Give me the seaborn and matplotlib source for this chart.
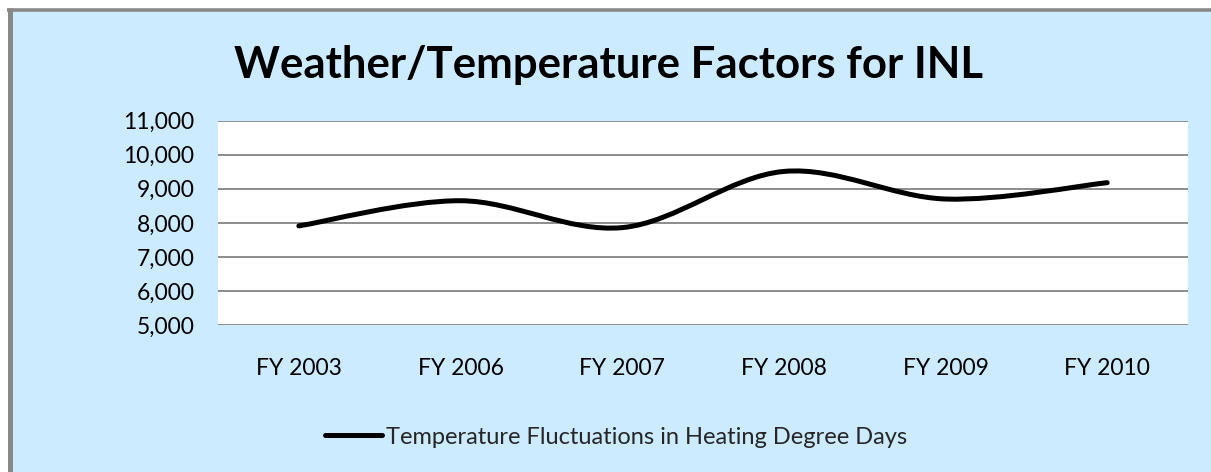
import numpy as np
import pandas as pd
import matplotlib
matplotlib.use("Agg")
import matplotlib.pyplot as plt
import seaborn as sns
from matplotlib.path import Path
from matplotlib.patches import PathPatch, Rectangle
from matplotlib.lines import Line2D
from matplotlib.ticker import FuncFormatter

categories = ["FY 2003", "FY 2006", "FY 2007", "FY 2008", "FY 2009", "FY 2010"]
values = [7910, 8650, 7860, 9510, 8700, 9180]
series_name = "Temperature Fluctuations in Heating Degree Days"
title = "Weather/Temperature Factors for INL"
y_ticks = [5000, 6000, 7000, 8000, 9000, 10000, 11000]

sns.set_theme(style="white")
plt.rcParams['font.family'] = ['Lato', 'DejaVu Sans']

W, H = 1211, 472
fig = plt.figure(figsize=(W / 100, H / 100), dpi=100, facecolor="white",
                 edgecolor="white", linewidth=0)

bg = "#CCEBFF"
bx, by = 9.5 / W, 1 - 9.5 / H
fig.patches.append(Rectangle((bx, -0.1), 1.2, by + 0.1, transform=fig.transFigure,
                             facecolor=bg, edgecolor="none", linewidth=0, zorder=-10))
fig.lines.append(Line2D([bx, bx], [-0.1, by + 1.5 / H], transform=fig.transFigure,
                        color="#888888", linewidth=3.6, solid_capstyle="butt"))
fig.lines.append(Line2D([bx - 2.5 / W, 1.2], [by, by], transform=fig.transFigure,
                        color="#888888", linewidth=2.6, solid_capstyle="butt"))

left, right = 218 / W, 1188 / W
top, bottom = 1 - 120.7 / H, 1 - 325 / H
ax = fig.add_axes([left, bottom, right - left, top - bottom])
ax.set_facecolor("white")

df = pd.DataFrame({"idx": np.arange(len(categories)), "value": values})
sns.lineplot(data=df, x="idx", y="value", ax=ax, linewidth=0, color="black")

# Excel-style smoothed line: cubic Bezier segments through data points
x = df["idx"].to_numpy(dtype=float)
y = df["value"].to_numpy(dtype=float)
pts = np.column_stack([x, y])
verts = [tuple(pts[0])]
codes = [Path.MOVETO]
n = len(pts)
for i in range(n - 1):
    p0 = pts[i - 1] if i > 0 else pts[i]
    p1 = pts[i]
    p2 = pts[i + 1]
    p3 = pts[i + 2] if i + 2 < n else pts[i + 1]
    c1 = p1 + (p2 - p0) / 6.0
    c2 = p2 - (p3 - p1) / 6.0
    verts += [tuple(c1), tuple(c2), tuple(p2)]
    codes += [Path.CURVE4] * 3
ax.add_patch(PathPatch(Path(verts, codes), facecolor="none", edgecolor="black",
                       linewidth=3.6, capstyle="round", joinstyle="round", zorder=5))

ax.set_xlim(-0.5, len(categories) - 0.5)
ax.set_ylim(y_ticks[0], y_ticks[-1])
ax.set_yticks(y_ticks)
ax.yaxis.set_major_formatter(FuncFormatter(lambda v, p: f"{int(v):,}"))
ax.set_xticks(df["idx"])
ax.set_xticklabels(categories)
ax.grid(axis="y", color="#8C8C8C", linewidth=1.4)
ax.grid(axis="x", visible=False)
for s in ax.spines.values():
    s.set_visible(False)
ax.tick_params(axis="y", length=0, pad=17, labelsize=16.5, colors="black")
ax.tick_params(axis="x", length=0, pad=24, labelsize=16.5, colors="black")
ax.set_xlabel("")
ax.set_ylabel("")

fig.text(608 / W, 1 - 78 / H, title, ha="center", va="baseline",
         fontsize=31.5, fontweight="bold", color="black")

handle = Line2D([], [], color="black", linewidth=3.6, solid_capstyle="round")
fig.legend([handle], [series_name], loc="center", bbox_to_anchor=(616 / W, 1 - 437 / H),
           frameon=False, fontsize=17, handlelength=2.4, handletextpad=0.15)

fig.savefig("out.png", dpi=100, facecolor="white", edgecolor="white")
